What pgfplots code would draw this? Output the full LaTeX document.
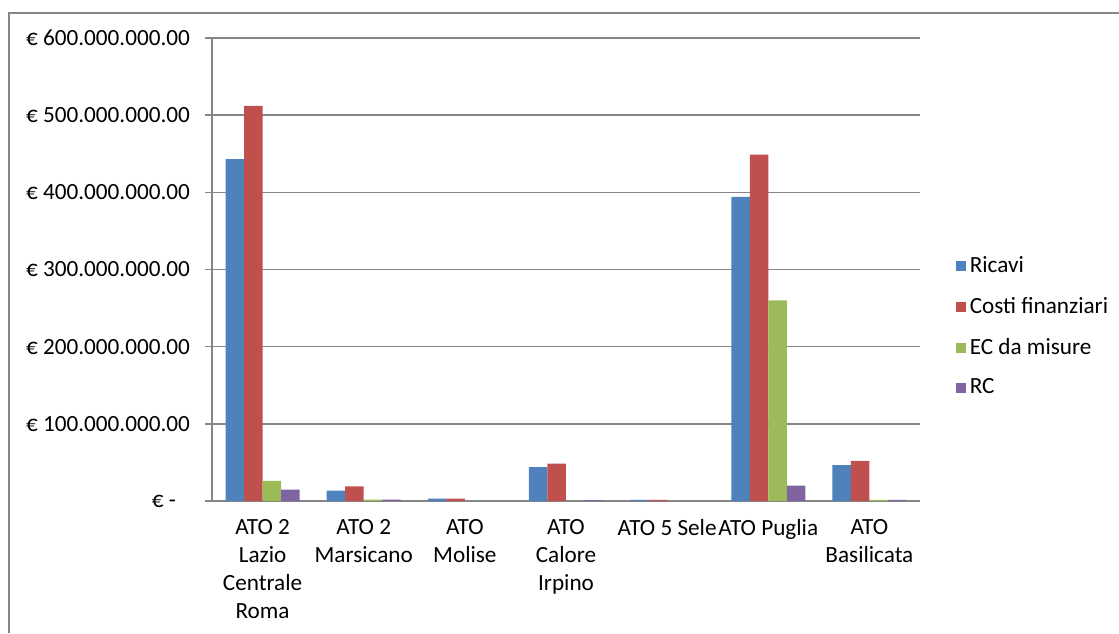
\documentclass[border=0pt]{standalone}
\usepackage{pgfplots}
\pgfplotsset{compat=1.18}
\usepackage{fontspec}
\setmainfont{Carlito}
\definecolor{cRic}{HTML}{4F81BD}
\definecolor{cCos}{HTML}{C0504D}
\definecolor{cEC}{HTML}{9BBB59}
\definecolor{cRC}{HTML}{8064A2}
\definecolor{gridgray}{RGB}{134,134,134}
\begin{document}
\begin{tikzpicture}
\useasboundingbox (0,0) rectangle (559.5pt,316.5pt);
\draw[gray!95, line width=1pt] (4.5pt,0) -- (4.5pt,310pt) -- (559.5pt,310pt);
\begin{axis}[
    at={(106pt,66pt)}, anchor=south west,
    scale only axis, width=354pt, height=231.5pt,
    ybar=0pt, bar width=0.183,
    xmin=-0.5, xmax=6.5, ymin=0, ymax=600,
    axis x line*=bottom, axis y line*=left,
    axis line style={gridgray, line width=0.75pt},
    ytick={0,100,...,600},
    yticklabels={{€ -\kern7pt},{€ 100.000.000.00},{€ 200.000.000.00},{€ 300.000.000.00},{€ 400.000.000.00},{€ 500.000.000.00},{€ 600.000.000.00}},
    xtick={0,...,6},
    xticklabels={{ATO 2\\Lazio\\Centrale\\Roma},{ATO 2\\Marsicano},{ATO\\Molise},{ATO\\Calore\\Irpino},{ATO 5 Sele},{ATO Puglia},{ATO\\Basilicata}},
    minor xtick={-0.5,0.5,...,6.5},
    tick align=outside, major tick length=3.5pt, minor tick length=4.5pt,
    xtick style={draw=none},
    minor x tick style={gridgray, line width=0.75pt},
    ytick style={gridgray, line width=0.75pt},
    ymajorgrids, grid style={gridgray, line width=0.75pt},
    tick label style={font=\fontsize{11.6}{14}\selectfont},
    xticklabel style={align=center, anchor=north, yshift=-2pt},
    yticklabel style={anchor=east, xshift=-4pt},
    legend style={at={(1.05,0.376)}, anchor=west, draw=none, fill=none,
        font=\fontsize{11.6}{13}\selectfont, row sep=6.8pt, inner sep=0pt},
    legend cell align=left,
    legend image code/.code={\fill[#1] (0pt,-2.5pt) rectangle (5pt,2.5pt);},
    ]
\addplot[fill=cRic, draw=none] coordinates {(0,443) (1,13.4) (2,3) (3,44) (4,1.5) (5,394) (6,46.6)};
\addplot[fill=cCos, draw=none] coordinates {(0,512) (1,19) (2,3) (3,48.5) (4,1.5) (5,449) (6,52)};
\addplot[fill=cEC, draw=none] coordinates {(0,26) (1,1.7) (2,0) (3,0) (4,0) (5,260) (6,1.5)};
\addplot[fill=cRC, draw=none] coordinates {(0,14.6) (1,1.7) (2,0) (3,1.2) (4,0) (5,20) (6,1.5)};
\legend{Ricavi,Costi finanziari,EC da misure,RC}
\end{axis}
\end{tikzpicture}
\end{document}
